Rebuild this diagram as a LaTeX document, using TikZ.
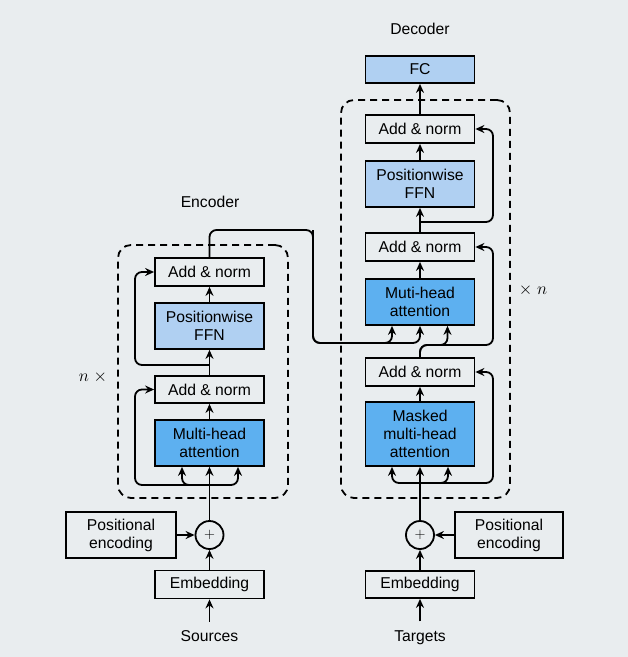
\documentclass[tikz,border=0pt]{standalone}
\usepackage{fontspec}
\setmainfont{Liberation Sans}
\usetikzlibrary{arrows.meta,calc}
\definecolor{bgc}{HTML}{E9EDEF}
\definecolor{lblue}{HTML}{B0D0F2}
\definecolor{dblue}{HTML}{5DB0F0}
\begin{document}
\begin{tikzpicture}[x=1pt,y=-1pt,
  font=\fontsize{15.7}{18}\selectfont,
  lw/.style={line width=1.8pt},
  box/.style={draw, lw, rectangle, minimum width=109pt, inner sep=0pt, align=center},
  whitebox/.style={box, minimum height=28pt},
  ffnbox/.style={box, fill=lblue, minimum height=46pt},
  attbox/.style={box, fill=dblue, minimum height=46pt},
  pebox/.style={draw, lw, rectangle, minimum width=110pt, minimum height=46pt, inner sep=0pt, align=center},
  plusnode/.style={draw, lw, circle, minimum size=28pt, inner sep=0pt},
  dashbox/.style={draw, lw, dash pattern=on 7pt off 5pt, rounded corners=13pt, rectangle, inner sep=0pt},
  arr/.style={lw, -{Stealth[length=9pt,width=8pt,inset=3pt]}},
  rc/.style={rounded corners=7pt},
  lab/.style={inner sep=0pt, text height=11.5pt, text depth=3.5pt},
  mult/.style={inner sep=0pt, font=\fontsize{17}{20}\selectfont}
]
\fill[bgc] (0,0) rectangle (628,657);
\useasboundingbox (0,0) rectangle (628,657);

% ---------- Encoder ----------
\node[lab] (enclab) at (210,203) {Encoder};
\node[dashbox, minimum width=170pt, minimum height=253pt] (eblock) at (203,371.5) {};
\node[mult] (nx) at (93,377) {$n\;\times$};
\node[whitebox] (eAN2) at (209.5,272) {Add \& norm};
\node[ffnbox] (eFFN) at (209.5,326) {Positionwise\\FFN};
\node[whitebox, minimum height=27pt] (eAN1) at (209.5,389.5) {Add \& norm};
\node[attbox] (eMHA) at (209.5,443) {Multi-head\\attention};
\node[plusnode] (ePlus) at (209.5,535) {$+$};
\node[pebox] (ePE) at (121,535) {Positional\\encoding};
\node[whitebox] (eEmb) at (209.5,584.5) {Embedding};
\node[lab] (src) at (209.5,637.5) {Sources};

\coordinate (eresx) at (135,0);
\coordinate (eSplit) at (209.5,485);
\coordinate (eSplit2) at (209.5,365);

\draw[arr] ([yshift=8pt]src.north) -- (eEmb.south);
\draw[arr] (eEmb.north) -- (ePlus.south);
\draw[arr] (ePE.east) -- (ePlus.west);
\draw[arr] (ePlus.north) -- (eMHA.south);
\draw[arr,rc] (eSplit) -| ([xshift=-27.5pt]eMHA.south);
\draw[arr,rc] (eSplit) -| ([xshift=28.5pt]eMHA.south);
\draw[arr,rc] (eSplit) -| (eresx |- eAN1.west) -- (eAN1.west);
\draw[arr] (eMHA.north) -- (eAN1.south);
\draw[arr] (eAN1.north) -- (eFFN.south);
\draw[arr,rc] (eSplit2) -| (eresx |- eAN2.west) -- (eAN2.west);
\draw[arr] (eFFN.north) -- (eAN2.south);

% ---------- Decoder ----------
\node[lab] (declab) at (420,30) {Decoder};
\node[whitebox, minimum height=27pt, fill=lblue] (FC) at (420,69.5) {FC};
\node[dashbox, minimum width=169pt, minimum height=398pt] (dblock) at (425.5,299) {};
\node[mult] (xn) at (533,290) {$\times\;n$};
\node[whitebox] (dAN3) at (420,129) {Add \& norm};
\node[ffnbox] (dFFN) at (420,184) {Positionwise\\FFN};
\node[whitebox] (dAN2) at (420,247) {Add \& norm};
\node[attbox] (dMHA) at (420,302) {Muti-head\\attention};
\node[whitebox] (dAN1) at (420,372) {Add \& norm};
\node[attbox, minimum height=64pt] (dMMHA) at (420,434) {Masked\\multi-head\\attention};
\node[plusnode] (dPlus) at (420,535) {$+$};
\node[pebox, minimum width=108pt] (dPE) at (509,535) {Positional\\encoding};
\node[whitebox, minimum height=27pt] (dEmb) at (420,584.5) {Embedding};
\node[lab] (tgt) at (420,637) {Targets};

\coordinate (dresx) at (493,0);
\coordinate (dSplit) at (420,483);
\coordinate (dSplit2) at (420,345);
\coordinate (dSplit3) at (420,222);

\draw[arr] ([yshift=8pt]tgt.north) -- (dEmb.south);
\draw[arr] (dEmb.north) -- (dPlus.south);
\draw[arr] (dPE.west) -- (dPlus.east);
\draw[arr] (dPlus.north) -- (dMMHA.south);
\draw[arr,rc] (dSplit) -| ([xshift=-28pt]dMMHA.south);
\draw[arr,rc] (dSplit) -| ([xshift=28pt]dMMHA.south);
\draw[arr,rc] (dSplit) -| (dresx |- dAN1.east) -- (dAN1.east);
\draw[arr] (dMMHA.north) -- (dAN1.south);
\draw[arr,rc] (dAN1.north) -- (dSplit2) -| ([xshift=27.5pt]dMHA.south);
\draw[arr,rc] (dAN1.north) -- (dSplit2) -| (dresx |- dAN2.east) -- (dAN2.east);
\draw[arr] (dMHA.north) -- (dAN2.south);
\draw[arr] (dAN2.north) -- (dFFN.south);
\draw[arr,rc] (dSplit3) -| (dresx |- dAN3.east) -- (dAN3.east);
\draw[arr] (dFFN.north) -- (dAN3.south);
\draw[arr] (dAN3.north) -- (FC.south);

% ---------- Encoder output to decoder ----------
\coordinate (eo1) at (209.5,230);
\coordinate (eo2) at (313,230);
\coordinate (eo3) at (313,343);
\draw[arr,rc] (eAN2.north) -- (eo1) -- (eo2) -- (eo3) -| ([xshift=-28pt]dMHA.south);
\draw[arr,rc] (eo2) -- (eo3) -| (dMHA.south);
\end{tikzpicture}
\end{document}
